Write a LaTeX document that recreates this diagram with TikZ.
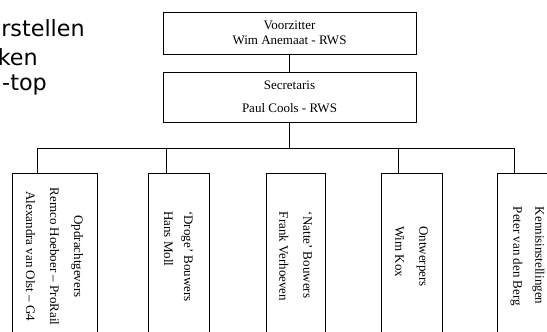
\documentclass[tikz,border=0pt]{standalone}
\usepackage{fontspec}
\setmainfont{Liberation Serif}
\newfontfamily\leftfont{DejaVu Sans}
\begin{document}
\begin{tikzpicture}[x=1pt,y=-1pt,
  box/.style={draw,line width=0.9pt,inner sep=0pt,font=\fontsize{13}{15}\selectfont,align=center},
  vbox/.style={box,rotate=-90,minimum width=167pt},
  lefttxt/.style={font=\leftfont\fontsize{22.3}{26}\selectfont,anchor=base east,inner sep=0pt},
  conn/.style={draw,line width=0.9pt}]
\useasboundingbox (0,0) rectangle (547,332);
\clip (0,0) rectangle (547,332);
% left text (cut off)
\node[lefttxt] (l1) at (85,36) {rstellen};
\node[lefttxt] (l2) at (38,65) {ken};
\node[lefttxt] (l3) at (47,90.5) {-top};
% top boxes
\node[box,minimum width=253pt,minimum height=42pt] (voor) at (289.5,33) {Voorzitter\\Wim Anemaat - RWS};
\node[box,minimum width=253pt,minimum height=50pt,font=\fontsize{13}{23}\selectfont] (sec) at (289.5,97) {Secretaris\\Paul Cools - RWS};
% vertical boxes
\node[vbox,minimum height=85pt,font=\fontsize{13}{24}\selectfont] (b1) at (54.5,256.5)
  {Opdrachtgevers\\Remco Hoeboer – ProRail\\Alexandra van Olst – G4};
\node[vbox,minimum height=61pt,align=left,font=\fontsize{13}{20}\selectfont] (b2) at (178.5,256.5)
  {‘Droge’ Bouwers\\Hans Moll};
\node[vbox,minimum height=59pt,align=left,font=\fontsize{13}{24}\selectfont] (b3) at (295.5,256.5)
  {‘Natte’ Bouwers\\Frank Verhoeven};
\node[vbox,minimum height=61pt,align=left,font=\fontsize{13}{24}\selectfont] (b4) at (411.5,256.5)
  {Ontwerpers\\Wim Kox};
\node[vbox,minimum height=61pt,align=left,font=\fontsize{13}{22}\selectfont] (b5) at (527.5,256.5)
  {Kennisinstellingen\\Peter van den Berg};
% connectors
\draw[conn] (voor.south) -- (sec.north);
\coordinate (bus) at (289.5,148);
\coordinate (t1) at (37,148);
\coordinate (t2) at (166,148);
\coordinate (t4) at (398,148);
\coordinate (t5) at (514,148);
\draw[conn] (sec.south) -- (bus);
\draw[conn] (t1) -- (t5);
\draw[conn] (t1) -- (t1 |- b1.west);
\draw[conn] (t2) -- (t2 |- b2.west);
\draw[conn] (t4) -- (t4 |- b4.west);
\draw[conn] (t5) -- (t5 |- b5.west);
\end{tikzpicture}
\end{document}
